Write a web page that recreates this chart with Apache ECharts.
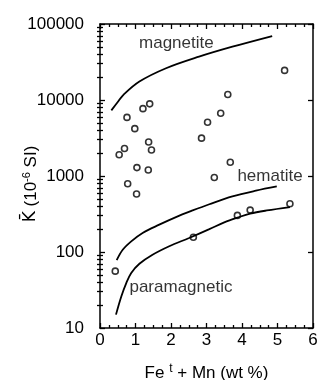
<!DOCTYPE html>
<html>
<head>
<meta charset="utf-8">
<script src="https://cdn.jsdelivr.net/npm/echarts@6/dist/echarts.min.js"></script>
<style>
  html, body { margin: 0; padding: 0; background: #fff; }
  #chart { width: 320px; height: 380px; }
</style>
</head>
<body>
<div id="chart"></div>
<script>
// Measured samples: total Fe + Mn (wt %) and mean susceptibility K (10^-6 SI)
const sampleFeMn = [5.2, 3.6, 3.4, 3.03, 2.86, 1.4, 1.21, 0.76, 0.98, 1.37, 0.69, 0.54,
                    1.45, 1.04, 1.36, 0.78, 1.03, 3.67, 3.22, 3.87, 4.23, 5.35, 0.43, 2.63];
const sampleK = [24500, 11800, 6700, 5100, 3150, 8900, 7700, 5900, 4200, 2800, 2300, 1900,
                 2200, 1290, 1200, 790, 580, 1520, 955, 303, 356, 431, 56, 156];

// Reference curve: magnetite
const magnetiteFeMn = [0.32, 0.5, 0.66, 1.11, 1.86, 2.79, 3.73, 4.85];
const magnetiteK = [7300, 9400, 11700, 17500, 26200, 37200, 50300, 69500];

// Reference curve: hematite
const hematiteFeMn = [0.47, 0.64, 0.88, 1.2, 1.67, 2.14, 2.61, 3.08, 3.73, 4.39, 4.98];
const hematiteK = [78, 107, 138, 178, 229, 288, 352, 425, 538, 640, 728];

// Reference curve: paramagnetic
const paraFeMn = [0.45, 0.6, 0.74, 0.88, 1.11, 1.48, 1.95, 2.51, 3.08, 3.5, 3.87, 4.23, 4.7, 5.35];
const paraK = [15, 26, 39, 53, 70, 92, 119, 153, 200, 245, 283, 320, 352, 390];

// Curve names, written next to each curve (anchored in data units)
const curveNames = ['magnetite', 'hematite', 'paramagnetic'];
const curveNameFeMn = [1.1, 3.87, 0.83];
const curveNameK = [56000, 1000, 34];

// Axis ticks
const xTicks = [0, 1, 2, 3, 4, 5, 6];
const yDecades = [10, 100, 1000, 10000, 100000];

// Axis titles
const xTitle = 'Fe {sup|t} + Mn (wt %)';
const yTitle = '{k|K\u0304} (10{sup|-6} SI)';

const FONT = '"Liberation Sans", Arial, Helvetica, sans-serif';
const INK = '#000';
const X_MIN = xTicks[0], X_MAX = xTicks[xTicks.length - 1];
const Y_MIN = yDecades[0], Y_MAX = yDecades[yDecades.length - 1];

// Minor tick values: quarters on x, 2..9 within each decade on y
const xMinor = [];
for (let i = 0; i < xTicks.length - 1; i++) {
  for (let q = 1; q < 4; q++) xMinor.push(xTicks[i] + q * (xTicks[i + 1] - xTicks[i]) / 4);
}
const yMinor = [];
for (let i = 0; i < yDecades.length - 1; i++) {
  for (let m = 2; m <= 9; m++) yMinor.push(m * yDecades[i]);
}

const zip = (a, b) => a.map((v, i) => [v, b[i]]);

// Builds one side of the frame; tick marks point inward
function frameAxis(type, pos, values, len, labels, extra) {
  const ax = {
    type: type, position: pos,
    axisLine: { show: true, onZero: false, lineStyle: { color: INK, width: 1.5 } },
    axisTick: { show: true, inside: true, length: len, customValues: values,
                lineStyle: { color: INK, width: 1.3 } },
    axisLabel: { show: labels, color: INK, fontSize: 17, fontFamily: FONT },
    splitLine: { show: false }
  };
  if (labels) ax.axisLabel.customValues = values;
  return Object.assign(ax, extra);
}

const xRange = () => ({ min: X_MIN, max: X_MAX, interval: 1 });
const yRange = () => ({ logBase: 10, min: Y_MIN, max: Y_MAX });

const supStyle = (size) => ({ fontSize: size, fontFamily: FONT, color: INK, fill: INK,
                              verticalAlign: 'top', lineHeight: 20, padding: [0, 0, 8, 0] });

const xBottom = frameAxis('value', 'bottom', xTicks, 5, true, Object.assign(xRange(), {
  name: xTitle, nameLocation: 'middle', nameGap: 35, nameMoveOverlap: false,
  nameTextStyle: { color: INK, fontSize: 17, fontFamily: FONT, lineHeight: 20,
                   rich: { sup: supStyle(12) } }
}));
xBottom.axisLabel.margin = 4;

const yLeft = frameAxis('log', 'left', yDecades, 5, true, yRange());
yLeft.axisLabel.margin = 16;
yLeft.axisLabel.formatter = v => String(v);

// Extra axes on the same sides carry only the short minor tick marks
const bare = { axisLine: { show: false }, axisLabel: { show: false } };
const xAxes = [
  xBottom,
  frameAxis('value', 'top', xTicks, 5, false, xRange()),
  Object.assign(frameAxis('value', 'bottom', xMinor, 3, false, xRange()), bare),
  Object.assign(frameAxis('value', 'top', xMinor, 3, false, xRange()), bare)
];
const yAxes = [
  yLeft,
  frameAxis('log', 'right', yDecades, 5, false, yRange()),
  Object.assign(frameAxis('log', 'left', yMinor, 3, false, yRange()), bare),
  Object.assign(frameAxis('log', 'right', yMinor, 3, false, yRange()), bare)
];

const lineStyle = { color: INK, width: 1.8 };

const chart = echarts.init(document.getElementById('chart'), null, { renderer: 'canvas' });
chart.setOption({
  animation: false,
  backgroundColor: '#fff',
  grid: { left: 100, right: 7, top: 24, bottom: 52, outerBoundsMode: 'none', containLabel: false },
  xAxis: xAxes,
  yAxis: yAxes,
  graphic: [{
    // vertical title of the susceptibility axis, reading bottom to top
    type: 'text', x: 31, y: 184, rotation: Math.PI / 2, silent: true,
    style: {
      text: yTitle, fill: INK, fontSize: 17, fontFamily: FONT,
      align: 'center', verticalAlign: 'middle', lineHeight: 20,
      rich: {
        k: { fontSize: 17, fontFamily: '"DejaVu Sans", ' + FONT, fill: INK, lineHeight: 20 },
        sup: supStyle(11)
      }
    }
  }],
  series: [
    { type: 'line', name: 'magnetite', data: zip(magnetiteFeMn, magnetiteK), smooth: 0.35,
      showSymbol: false, lineStyle: lineStyle, silent: true },
    { type: 'line', name: 'hematite', data: zip(hematiteFeMn, hematiteK), smooth: 0.35,
      showSymbol: false, lineStyle: lineStyle, silent: true },
    { type: 'line', name: 'paramagnetic', data: zip(paraFeMn, paraK), smooth: 0.35,
      showSymbol: false, lineStyle: lineStyle, silent: true },
    { type: 'scatter', name: 'samples', data: zip(sampleFeMn, sampleK),
      symbol: 'circle', symbolSize: 6,
      itemStyle: { color: '#fff', borderColor: INK, borderWidth: 1.6 } },
    { type: 'scatter', name: 'curve names', silent: true, symbolSize: 0,
      data: curveNames.map((n, i) => ({ name: n, value: [curveNameFeMn[i], curveNameK[i]] })),
      label: { show: true, position: 'right', distance: 0, formatter: '{b}',
               color: INK, fontSize: 17, fontFamily: FONT } }
  ]
});
</script>
</body>
</html>
